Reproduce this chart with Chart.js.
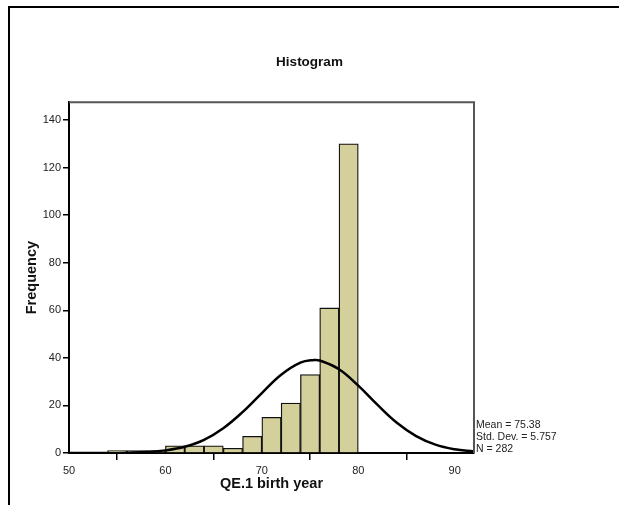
<!DOCTYPE html>
<html>
<head>
<meta charset="utf-8">
<script src="https://cdn.jsdelivr.net/npm/chart.js@4"></script>
<style>
    html, body { margin: 0; padding: 0; background: #fff; overflow: hidden; }
    .frame { position: absolute; left: 8px; top: 6px; width: 700px; height: 600px;
             border-left: 2px solid #000; border-top: 2px solid #000; }
    #histChart { position: absolute; left: 0; top: 0; }
</style>
</head>
<body>
<div class="frame"></div>
<canvas id="histChart" width="619" height="505"></canvas>
<script>
// histogram bins (centres of 2-year bins) and counts
const binCenters = [55, 57, 59, 61, 63, 65, 67, 69, 71, 73, 75, 77, 79];
const frequencies = [1, 1, 1, 3, 3, 3, 2, 7, 15, 21, 33, 61, 130];

// normal curve
const curveX = [50, 52, 54, 56, 58, 60, 62, 64, 66, 68, 70, 72, 74, 75.4, 76, 78, 80, 82, 84, 86, 88, 90, 92];
const curveY = [0, 0.01, 0.04, 0.14, 0.41, 1.1, 2.6, 5.5, 10.4, 17.2, 25.2, 32.9, 38.0, 39.1, 38.9, 35.2, 28.3, 20.2, 12.7, 7.1, 3.5, 1.55, 0.6];

const xTicks = [50, 60, 70, 80, 90];
const yTicks = [0, 20, 40, 60, 80, 100, 120, 140];
const statsLines = ['Mean = 75.38', 'Std. Dev. = 5.757', 'N = 282'];

const fontFamily = "Arial, 'Liberation Sans', sans-serif";

// grey top/right box edges and the stats text
const boxPlugin = {
    id: 'boxPlugin',
    afterDraw(chart) {
        const { ctx, chartArea } = chart;
        ctx.save();
        ctx.strokeStyle = '#555';
        ctx.lineWidth = 2;
        ctx.beginPath();
        ctx.moveTo(chartArea.left, chartArea.top);
        ctx.lineTo(chartArea.right, chartArea.top);
        ctx.lineTo(chartArea.right, chartArea.bottom);
        ctx.stroke();
        ctx.fillStyle = '#222';
        ctx.font = '10.5px ' + fontFamily;
        ctx.textBaseline = 'middle';
        statsLines.forEach((t, i) => {
            ctx.fillText(t, chartArea.right + 2, chartArea.bottom - 28 + i * 12);
        });
        ctx.restore();
    }
};

const ctx = document.getElementById('histChart').getContext('2d');
new Chart(ctx, {
    type: 'bar',
    data: {
        datasets: [{
            type: 'line',
            data: curveX.map((x, i) => ({ x: x, y: curveY[i] })),
            borderColor: '#000',
            borderWidth: 2.5,
            pointRadius: 0,
            tension: 0.4,
            fill: false
        }, {
            type: 'bar',
            data: binCenters.map((x, i) => ({ x: x, y: frequencies[i] })),
            backgroundColor: '#d4d09b',
            borderColor: '#111',
            borderWidth: 1.3,
            barPercentage: 1,
            categoryPercentage: 1
        }]
    },
    options: {
        responsive: false,
        animation: false,
        layout: { padding: 0 },
        plugins: {
            legend: { display: false },
            tooltip: { enabled: false },
            title: {
                display: true,
                text: 'Histogram',
                color: '#111',
                font: { family: fontFamily, size: 13.5, weight: 'bold' },
                padding: { top: 54, bottom: 32 }
            }
        },
        scales: {
            x: {
                type: 'linear',
                offset: false,
                min: 50,
                max: 92,
                afterFit: s => { s.height = 52; },
                afterBuildTicks: s => { s.ticks = xTicks.map(v => ({ value: v })); },
                ticks: { color: '#222', font: { family: fontFamily, size: 11 }, padding: 4, maxRotation: 0 },
                grid: { drawOnChartArea: false, drawTicks: true, tickLength: 7, color: '#000', lineWidth: 1.5 },
                border: { display: true, color: '#000', width: 2 },
                title: {
                    display: true,
                    text: 'QE.1 birth year',
                    color: '#111',
                    font: { family: fontFamily, size: 14.5, weight: 'bold' },
                    padding: { top: 0, bottom: 12 }
                }
            },
            y: {
                min: 0,
                max: 147.5,
                afterFit: s => { s.width = 69; },
                afterBuildTicks: s => { s.ticks = yTicks.map(v => ({ value: v })); },
                ticks: { color: '#222', font: { family: fontFamily, size: 11 }, padding: 2 },
                grid: { drawOnChartArea: false, drawTicks: true, tickLength: 6, color: '#000', lineWidth: 1.5 },
                border: { display: true, color: '#000', width: 2 },
                title: {
                    display: true,
                    text: 'Frequency',
                    color: '#111',
                    font: { family: fontFamily, size: 14.5, weight: 'bold' },
                    padding: { top: 23, bottom: 0 }
                }
            },
            // empty right-hand strip so the title centres on the whole page
            yRight: {
                position: 'right',
                min: 0,
                max: 147.5,
                afterFit: s => { s.width = 145; },
                ticks: { display: false },
                grid: { display: false, drawTicks: false },
                border: { display: false }
            }
        }
    },
    plugins: [boxPlugin]
});
</script>
</body>
</html>
